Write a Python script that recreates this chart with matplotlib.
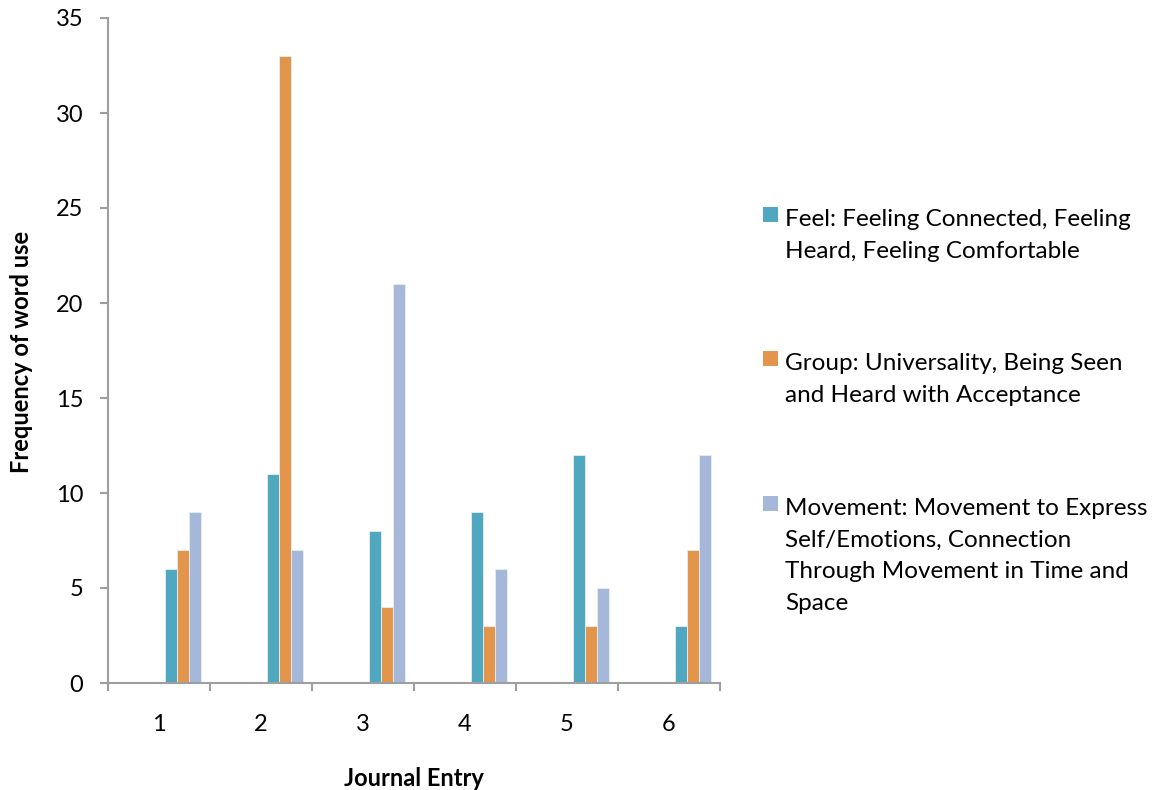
import matplotlib
matplotlib.use('Agg')
import matplotlib.pyplot as plt
from matplotlib.patches import Rectangle
import numpy as np

entries = [1, 2, 3, 4, 5, 6]
feel = [6, 11, 8, 9, 12, 3]
group = [7, 33, 4, 3, 3, 7]
movement = [9, 7, 21, 6, 5, 12]

series = [feel, group, movement]
colors = ['#4FA8BF', '#E3954B', '#A5B8DA']
labels = [
    'Feel: Feeling Connected, Feeling\nHeard, Feeling Comfortable',
    'Group: Universality, Being Seen\nand Heard with Acceptance',
    'Movement: Movement to Express\nSelf/Emotions, Connection\nThrough Movement in Time and\nSpace',
]

plt.rcParams['font.family'] = ['Lato', 'DejaVu Sans']
fs = 17
leg_fs = 17.5
axis_grey = '#9E9E9E'

fig = plt.figure(figsize=(11.67, 7.9), dpi=100)
ax = fig.add_axes([108 / 1167, 1 - 683 / 790, 612 / 1167, 665 / 790])

x = np.array(entries, dtype=float)
width = 0.1176
start = 0.063
for k, (vals, col) in enumerate(zip(series, colors)):
    ax.bar(x + start + width * (k + 0.5), vals, width, color=col,
           edgecolor='#E8EEF3', linewidth=0.6)

ax.set_xlim(0.5, 6.5)
ax.set_ylim(0, 35)
ax.set_yticks(range(0, 36, 5))

# category boundary ticks, labels in the middle
ax.set_xticks(np.arange(0.5, 7, 1))
ax.set_xticklabels([])
ax.set_xticks(x, minor=True)
ax.set_xticklabels([str(e) for e in entries], minor=True)
ax.tick_params(axis='x', which='minor', length=0, pad=22, labelsize=fs)
ax.tick_params(axis='x', which='major', length=8 * 0.72, width=1.5, color=axis_grey, direction='out')
ax.tick_params(axis='y', length=8 * 0.72, width=1.5, color=axis_grey, pad=12, labelsize=fs)

for side in ['top', 'right']:
    ax.spines[side].set_visible(False)
for side in ['left', 'bottom']:
    ax.spines[side].set_color(axis_grey)
    ax.spines[side].set_linewidth(1.5)

fig.text(22 / 1167, 1 - 352 / 790, 'Frequency of word use', rotation=90,
         ha='center', va='center', fontsize=fs, fontweight='bold')
fig.text(414 / 1167, 1 - 778 / 790, 'Journal Entry', ha='center', va='center',
         fontsize=fs, fontweight='bold')

# legend drawn by hand: square + wrapped lines
first_base = [226, 370, 515]
line_step = 31.7
for lab, col, base in zip(labels, colors, first_base):
    fig.patches.append(Rectangle((763 / 1167, 1 - (base - 4) / 790), 15 / 1167, 15 / 790,
                                 transform=fig.transFigure, facecolor=col,
                                 edgecolor='none'))
    for j, line in enumerate(lab.split('\n')):
        fig.text(785 / 1167, 1 - (base + j * line_step) / 790, line,
                 ha='left', va='baseline', fontsize=leg_fs)

fig.savefig('out.png', dpi=100)
